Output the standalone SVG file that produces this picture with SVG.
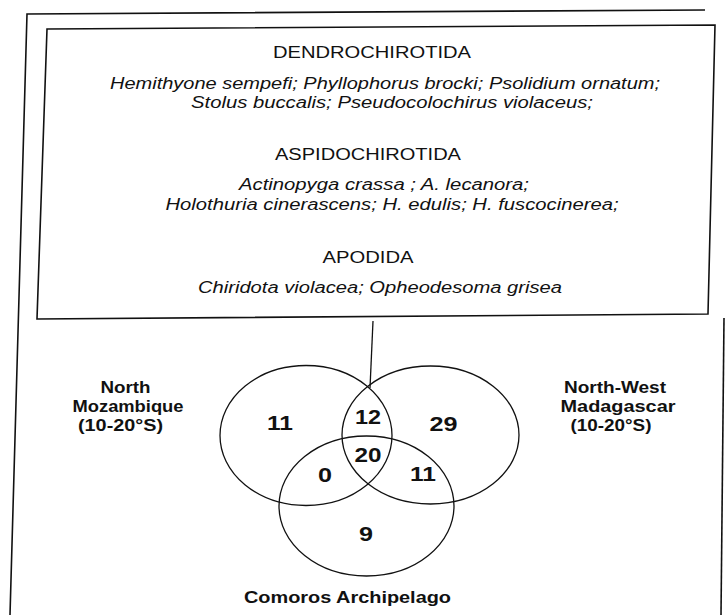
<svg xmlns="http://www.w3.org/2000/svg" width="725" height="615" viewBox="0 0 725 615">
<style>
.frame{fill:none;stroke:#111;stroke-width:1.6}
.set{fill:none;stroke:#111;stroke-width:1.3}
.conn{fill:none;stroke:#111;stroke-width:1.3}
.hd{font-family:"Liberation Sans",Arial,sans-serif;font-size:16px;fill:#111;text-anchor:middle}
.sp{font-family:"Liberation Sans",Arial,sans-serif;font-size:16px;font-style:italic;fill:#111;text-anchor:middle}
.lb{font-family:"Liberation Sans",Arial,sans-serif;font-size:16px;font-weight:bold;fill:#111;text-anchor:middle}
.num{font-family:"Liberation Sans",Arial,sans-serif;font-size:20px;font-weight:bold;fill:#111;text-anchor:middle}
</style>
<rect width="725" height="615" fill="#fff"/>
<g id="outer-frame">
<polyline class="frame" points="705,10 27,14 10,615"/>
<line class="frame" x1="724" y1="318" x2="721" y2="615"/>
</g>
<g id="taxa-box">
<polygon class="frame" points="47,29 715,25 708,314 37,319"/>
<text class="hd" x="372" y="58" textLength="198" lengthAdjust="spacingAndGlyphs">DENDROCHIROTIDA</text>
<text class="sp" x="385" y="89" textLength="550" lengthAdjust="spacingAndGlyphs">Hemithyone sempefi; Phyllophorus brocki; Psolidium ornatum;</text>
<text class="sp" x="392" y="108" textLength="402" lengthAdjust="spacingAndGlyphs">Stolus buccalis; Pseudocolochirus violaceus;</text>
<text class="hd" x="368" y="160" textLength="186" lengthAdjust="spacingAndGlyphs">ASPIDOCHIROTIDA</text>
<text class="sp" x="384" y="190" textLength="290" lengthAdjust="spacingAndGlyphs">Actinopyga crassa ; A. lecanora;</text>
<text class="sp" x="392" y="209.5" textLength="453" lengthAdjust="spacingAndGlyphs">Holothuria cinerascens; H. edulis; H. fuscocinerea;</text>
<text class="hd" x="368" y="263" textLength="91" lengthAdjust="spacingAndGlyphs">APODIDA</text>
<text class="sp" x="380" y="293" textLength="364" lengthAdjust="spacingAndGlyphs">Chiridota violacea; Opheodesoma grisea</text>
</g>
<g id="connectors">
<line class="conn" x1="373" y1="321" x2="370" y2="388"/>
</g>
<g id="set-mozambique">
<ellipse class="set" cx="306" cy="435.5" rx="86" ry="70"/>
<text class="lb" x="125.5" y="393" textLength="50" lengthAdjust="spacingAndGlyphs">North</text>
<text class="lb" x="128" y="412" textLength="111" lengthAdjust="spacingAndGlyphs">Mozambique</text>
<text class="lb" x="120.5" y="431" textLength="85" lengthAdjust="spacingAndGlyphs">(10-20°S)</text>
</g>
<g id="set-madagascar">
<ellipse class="set" cx="430.5" cy="435" rx="88.5" ry="69"/>
<text class="lb" x="615" y="393" textLength="102" lengthAdjust="spacingAndGlyphs">North-West</text>
<text class="lb" x="618" y="412" textLength="115" lengthAdjust="spacingAndGlyphs">Madagascar</text>
<text class="lb" x="611" y="431" textLength="81" lengthAdjust="spacingAndGlyphs">(10-20°S)</text>
</g>
<g id="set-comoros">
<ellipse class="set" cx="366.5" cy="506" rx="87.5" ry="70"/>
<text class="lb" x="347.5" y="603" textLength="207" lengthAdjust="spacingAndGlyphs">Comoros Archipelago</text>
</g>
<g id="counts">
<text class="num" x="280" y="430" textLength="26" lengthAdjust="spacingAndGlyphs">11</text>
<text class="num" x="368" y="424" textLength="26" lengthAdjust="spacingAndGlyphs">12</text>
<text class="num" x="443.5" y="430.5" textLength="28" lengthAdjust="spacingAndGlyphs">29</text>
<text class="num" x="368" y="461.5" textLength="27" lengthAdjust="spacingAndGlyphs">20</text>
<text class="num" x="325" y="481.5" textLength="14" lengthAdjust="spacingAndGlyphs">0</text>
<text class="num" x="423" y="481" textLength="26" lengthAdjust="spacingAndGlyphs">11</text>
<text class="num" x="366" y="540.5" textLength="14" lengthAdjust="spacingAndGlyphs">9</text>
</g>
</svg>
